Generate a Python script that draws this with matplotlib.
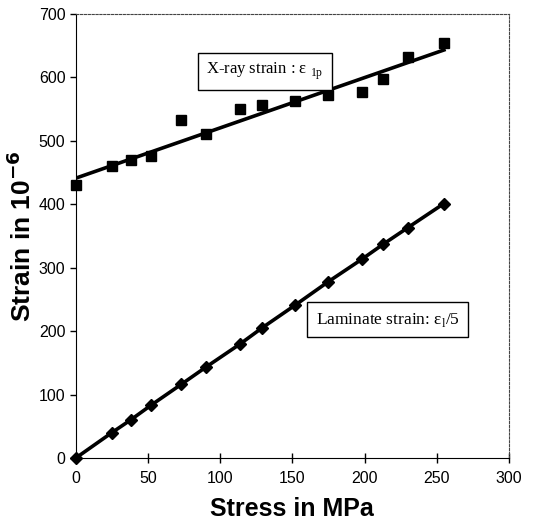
import matplotlib
matplotlib.use("Agg")
import matplotlib.pyplot as plt
import numpy as np

plt.rcParams['axes.unicode_minus'] = False

stress = [0, 25, 38, 52, 73, 90, 114, 129, 152, 175, 198, 213, 230, 255]
xray_strain = [430, 460, 470, 476, 533, 511, 550, 556, 563, 572, 577, 598, 632, 654]
laminate_strain = [0, 40, 60, 83, 116, 143, 180, 205, 241, 278, 313, 337, 363, 401]
xray_fit = [441, 643]
fit_x = [0, 255]

fig = plt.figure(figsize=(5.34, 5.31), dpi=100)
ax = fig.add_axes([0.142, 0.1375, 0.811, 0.8365])

ax.plot(fit_x, xray_fit, color='black', lw=2.6, zorder=2)
ax.plot(stress, xray_strain, 's', color='black', ms=6.5, ls='none', zorder=3, clip_on=False)
ax.plot(stress, laminate_strain, '-D', color='black', lw=2.6, ms=6, zorder=3, clip_on=False)

ax.set_xlim(0, 300)
ax.set_ylim(0, 700)
ax.set_xticks([0, 50, 100, 150, 200, 250, 300])
ax.set_yticks([0, 100, 200, 300, 400, 500, 600, 700])
for lab in ax.get_xticklabels() + ax.get_yticklabels():
    lab.set_fontfamily('Liberation Sans')
    lab.set_fontsize(11.5)
ax.tick_params(axis='x', direction='inout', length=7, width=1, pad=6)
ax.tick_params(axis='y', direction='out', length=4, width=1)
for s in ['top', 'right']:
    ax.spines[s].set_linestyle((0, (2, 1.5)))
    ax.spines[s].set_linewidth(0.8)
    ax.spines[s].set_color('#444444')

ax.set_xlabel('Stress in MPa', fontsize=18, fontweight='bold', family='Liberation Sans', labelpad=8)
ax.set_ylabel('Strain in 10$^{\\mathbf{-6}}$', fontsize=19, fontweight='bold', family='Liberation Sans', labelpad=2)

bbox = dict(boxstyle='square,pad=0.5', fc='white', ec='black', lw=1)
ax.text(131, 609, 'X-ray strain : ε $_{\\mathregular{1p}}$', ha='center', va='center',
        fontsize=12, family='Liberation Serif', bbox=bbox)
ax.text(216, 218, 'Laminate strain: ε$_{\\mathregular{l}}$/5', ha='center', va='center',
        fontsize=12.5, family='Liberation Serif', bbox=bbox)

fig.savefig('out.png', dpi=100)
